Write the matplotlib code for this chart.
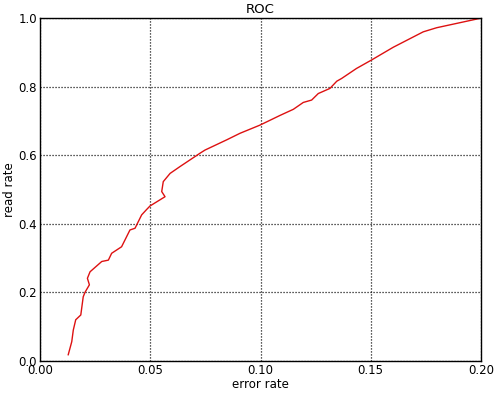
import matplotlib
matplotlib.use("Agg")
import matplotlib.pyplot as plt

error_rate = [0.0128, 0.0144, 0.0151, 0.0162, 0.0185, 0.0196, 0.0204, 0.0224, 0.0215,
              0.0227, 0.0280, 0.0310, 0.0325, 0.0370, 0.0408, 0.0431, 0.0461, 0.0484,
              0.0499, 0.0567, 0.0552, 0.0559, 0.0590, 0.0635, 0.0726, 0.0748, 0.0847,
              0.0907, 0.0998, 0.1088, 0.1149, 0.1194, 0.1232, 0.1262, 0.1315, 0.1346,
              0.1368, 0.1435, 0.1504, 0.1602, 0.1738, 0.1799, 0.2000]
read_rate = [0.018, 0.056, 0.090, 0.120, 0.134, 0.187, 0.200, 0.222, 0.241,
             0.260, 0.290, 0.294, 0.314, 0.333, 0.382, 0.387, 0.426, 0.442,
             0.452, 0.479, 0.494, 0.523, 0.547, 0.567, 0.606, 0.615, 0.645,
             0.664, 0.688, 0.716, 0.734, 0.754, 0.761, 0.780, 0.795, 0.816,
             0.824, 0.853, 0.878, 0.915, 0.960, 0.972, 1.000]

fig = plt.figure(figsize=(5.0, 3.94), dpi=100)
ax = fig.add_axes([0.08, 0.084, 0.882, 0.870])
ax.plot(error_rate, read_rate, color="#dd1111", linewidth=1.0)
ax.set_xlim(0, 0.2)
ax.set_ylim(0, 1.0)
ax.set_xticks([0.0, 0.05, 0.10, 0.15, 0.20])
ax.set_xticklabels(["0.00", "0.05", "0.10", "0.15", "0.20"])
ax.set_yticks([0.0, 0.2, 0.4, 0.6, 0.8, 1.0])
ax.set_yticklabels(["0.0", "0.2", "0.4", "0.6", "0.8", "1.0"])
ax.grid(True, color="black", linestyle=(0, (0.9, 1.5)), linewidth=0.9)
ax.tick_params(direction="in", length=0, labelsize=8.5, pad=2)
for s in ax.spines.values():
    s.set_linewidth(1.0)
ax.set_xlabel("error rate", fontsize=8.5, labelpad=1)
ax.set_ylabel("read rate", fontsize=8.5, labelpad=2)
ax.set_title("ROC", fontsize=9.5, pad=4)
fig.savefig("out.png", dpi=100)
